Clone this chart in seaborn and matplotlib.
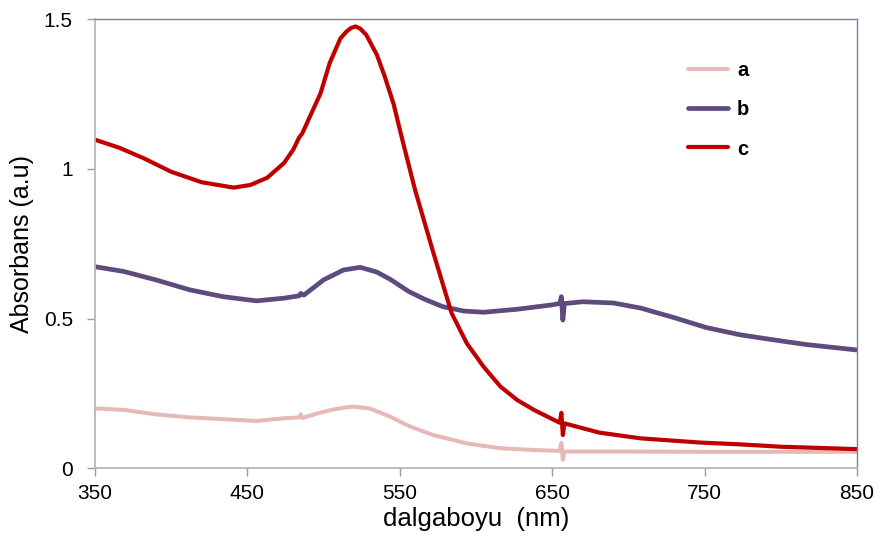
import numpy as np
import pandas as pd
import matplotlib
matplotlib.use("Agg")
import matplotlib.pyplot as plt
import seaborn as sns

# wavelength (nm) / absorbance
wl_a = [350, 369, 390, 412, 434, 456, 474, 484, 485, 486, 500, 510, 519, 530, 544, 550, 557,
        572, 594, 616, 638, 655, 656, 657, 658, 670, 700, 750, 800, 850]
abs_a = [0.200, 0.195, 0.180, 0.170, 0.164, 0.158, 0.167, 0.170, 0.180, 0.168, 0.189, 0.200,
         0.206, 0.200, 0.172, 0.156, 0.139, 0.111, 0.083, 0.067, 0.061, 0.058, 0.085, 0.028,
         0.056, 0.056, 0.056, 0.055, 0.055, 0.055]

wl_b = [350, 369, 390, 412, 434, 456, 474, 484, 485, 487, 500, 513, 524, 535, 544, 556, 566,
        578, 592, 605, 627, 649, 655, 656, 657, 658, 670, 690, 708, 730, 751, 773, 795, 817,
        850]
abs_b = [0.673, 0.657, 0.629, 0.596, 0.573, 0.559, 0.568, 0.576, 0.584, 0.578, 0.629, 0.662,
         0.671, 0.655, 0.630, 0.590, 0.565, 0.540, 0.525, 0.521, 0.531, 0.545, 0.550, 0.573,
         0.495, 0.550, 0.556, 0.552, 0.535, 0.503, 0.470, 0.446, 0.429, 0.413, 0.395]

wl_c = [350, 366, 382, 400, 420, 441, 452, 463, 474, 480, 484, 486, 491, 498, 504, 511, 515,
        518, 521, 524, 528, 535, 540, 546, 552, 560, 572, 584, 594, 605, 616, 627, 638, 649,
        655, 656, 657, 658, 681, 708, 747, 773, 800, 850]
abs_c = [1.097, 1.07, 1.035, 0.99, 0.955, 0.937, 0.946, 0.970, 1.019, 1.063, 1.105, 1.118,
         1.174, 1.252, 1.353, 1.435, 1.458, 1.470, 1.475, 1.468, 1.447, 1.38, 1.31, 1.215,
         1.09, 0.93, 0.72, 0.518, 0.417, 0.339, 0.273, 0.228, 0.195, 0.167, 0.152, 0.185,
         0.111, 0.150, 0.119, 0.100, 0.086, 0.080, 0.072, 0.064]

series = [("a", wl_a, abs_a, "#E6B9B8", 2.9),
          ("b", wl_b, abs_b, "#5E4B7E", 3.4),
          ("c", wl_c, abs_c, "#C00000", 3.0)]

sns.set_style("white")
plt.rcParams['font.family'] = ['Liberation Sans', 'DejaVu Sans']

fig = plt.figure(figsize=(8.81, 5.47), dpi=100)
ax = fig.add_axes([95/881, 1 - 468.3/547, 762/881, 449.3/547])

for name, x, y, col, lw in series:
    df = pd.DataFrame({"wl": x, "A": y})
    sns.lineplot(data=df, x="wl", y="A", ax=ax, color=col, linewidth=lw, label=name)

ax.set_xlim(350, 850)
ax.set_ylim(0, 1.5)
ax.set_xticks([350, 450, 550, 650, 750, 850])
ax.set_yticks([0, 0.5, 1, 1.5])
ax.set_yticklabels(["0", "0.5", "1", "1.5"])
ax.tick_params(axis="both", direction="out", length=6, width=1, color="#9a9a9a",
               labelsize=15, labelcolor="black", bottom=True, left=True)
ax.tick_params(axis="x", pad=5)
ax.tick_params(axis="y", pad=10)

ax.set_xlabel("dalgaboyu  (nm)", fontsize=18.5, labelpad=3, color="black")
ax.set_ylabel("Absorbans (a.u)", fontsize=18, labelpad=7, color="black")

for s in ["left", "bottom"]:
    ax.spines[s].set_color("#b8b8b8")
    ax.spines[s].set_linewidth(1.3)
for s in ["top", "right"]:
    ax.spines[s].set_color("#8877aa")
    ax.spines[s].set_linewidth(1.0)

leg = ax.legend(loc="upper left", bbox_to_anchor=(0.778, 0.906), frameon=False,
                borderpad=0, borderaxespad=0, handlelength=2.0, handletextpad=0.45,
                labelspacing=1.0, prop={"weight": "bold", "size": 14.5}, labelcolor="black")

plt.savefig("out.png", dpi=100)
